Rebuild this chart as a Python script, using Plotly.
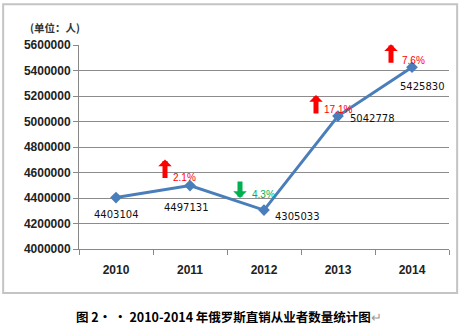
import plotly.graph_objects as go

years = ["2010", "2011", "2012", "2013", "2014"]
workers = [4403104, 4497131, 4305033, 5042778, 5425830]
y_ticks = [4000000, 4200000, 4400000, 4600000, 4800000, 5000000, 5200000, 5400000, 5600000]
unit_label = "(单位：人)"
caption = "图 2· · 2010-2014 年俄罗斯直销从业者数量统计图"

# label offsets (pixels) for value labels
val_dx = [0, -4, 33, 34, 10]
val_dy = [-17, -22, -6, -2, -19]
# arrow / percentage offsets (pixels)
arr_dx = [None, -25, -24, -22, -21]
arr_tip = [None, 26, 12, 21, 23]
pct_dx = [None, -19, -14, -16, -12]
pct_dy = [None, 8, 16, 7, 7]

LINE = "#4a7ebb"
fig = go.Figure()
fig.add_trace(go.Scatter(
    x=years, y=workers, mode="lines+markers",
    line=dict(color=LINE, width=3),
    marker=dict(symbol="diamond", size=9, color=LINE),
    hoverinfo="skip", showlegend=False,
))

ann = []
for i, v in enumerate(workers):
    ann.append(dict(x=i, y=v, text=str(v), showarrow=False,
                    xshift=val_dx[i], yshift=val_dy[i],
                    font=dict(family="DejaVu Sans", size=10, color="#111")))
    if i == 0:
        continue
    ch = workers[i] / workers[i - 1] - 1
    up = ch > 0
    col = "#ff0000" if up else "#00b050"
    ann.append(dict(x=i, y=v, xref="x", yref="y", text="", showarrow=True,
                    arrowhead=1, arrowwidth=5, arrowsize=0.45, arrowcolor=col,
                    ax=0, ay=(20 if up else -18),
                    xshift=arr_dx[i], yshift=arr_tip[i]))
    ann.append(dict(x=i, y=v, text=f"{abs(ch)*100:.1f}%", showarrow=False,
                    xanchor="left", xshift=pct_dx[i], yshift=pct_dy[i],
                    font=dict(family="Liberation Sans", size=10, color=col)))

ann.append(dict(x=-0.065, y=1.085, xref="paper", yref="paper", text=unit_label,
                showarrow=False, xanchor="center", yanchor="middle",
                font=dict(family="Noto Sans CJK SC", size=10.5, color="#333", weight="bold")))
ann.append(dict(x=0.405, y=-0.33, xref="paper", yref="paper",
                text=caption + "<span style='color:#999;font-weight:normal'>↵</span>",
                showarrow=False, xanchor="center", yanchor="middle",
                font=dict(family="Noto Sans CJK SC", size=12.5, color="#000", weight="bold")))

fig.update_layout(
    width=460, height=332,
    margin=dict(l=79, r=11, t=45, b=83),
    paper_bgcolor="white", plot_bgcolor="white",
    annotations=ann,
    shapes=[dict(type="rect", xref="paper", yref="paper",
                 x0=-0.205, x1=1.022, y0=-0.216, y1=1.2,
                 line=dict(color="#c4c4c4", width=2), layer="below")],
    xaxis=dict(type="category", range=[-0.5, 4.5], showgrid=False,
               showline=True, linecolor="#888", linewidth=1,
               ticks="outside", tickson="boundaries", ticklen=5, tickcolor="#888",
               tickfont=dict(family="Liberation Sans", size=12, color="#222", weight="bold"),
               ticklabelstandoff=10),
    yaxis=dict(range=[4000000, 5600000], tickvals=y_ticks,
               ticktext=[str(t) for t in y_ticks],
               showgrid=True, gridcolor="#8c8c8c", gridwidth=1,
               showline=True, linecolor="#888", linewidth=1,
               ticks="outside", ticklen=5, tickcolor="#888", zeroline=False,
               tickfont=dict(family="Liberation Sans", size=12, color="#222", weight="bold")),
)

fig.write_html("out.html")
